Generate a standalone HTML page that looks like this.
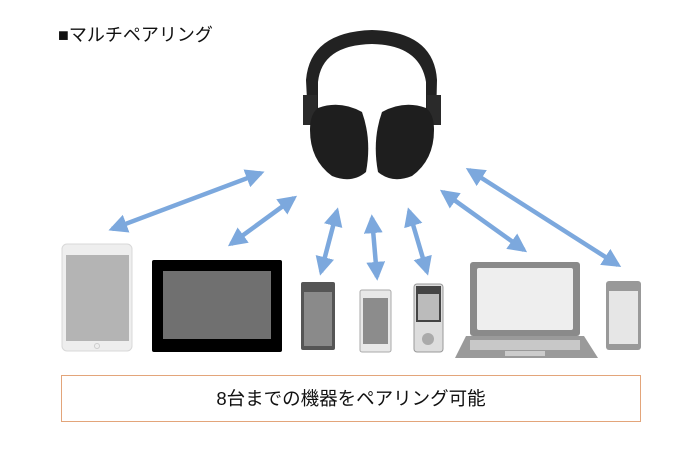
<!DOCTYPE html>
<html><head><meta charset="utf-8"><style>
body{margin:0;width:700px;height:450px;background:#fff;overflow:hidden;position:relative;font-family:"Liberation Sans","Noto Sans CJK JP",sans-serif}
.t{position:absolute;left:58px;top:21px;font-size:18px;color:#111}
.box{position:absolute;left:61px;top:375px;width:580px;height:47px;border:1px solid #e3a57a;box-sizing:border-box;text-align:center;line-height:45px;font-size:18.5px;color:#111}
</style></head><body>
<div class="t">■マルチペアリング</div>
<svg width="700" height="450" style="position:absolute;left:0;top:0">
<defs><marker id="a" viewBox="0 0 10 10" refX="8" refY="5" markerWidth="4.2" markerHeight="4.2" orient="auto-start-reverse"><path d="M0,0L10,5L0,10z" fill="#7ca8dd"/></marker></defs>
<g stroke="#7ca8dd" stroke-width="4.5" marker-start="url(#a)" marker-end="url(#a)">
<line x1="112" y1="229" x2="261" y2="173"/>
<line x1="231" y1="244" x2="294" y2="198"/>
<line x1="321" y1="272" x2="337" y2="211"/>
<line x1="372" y1="218" x2="377" y2="277"/>
<line x1="409" y1="211" x2="427" y2="272"/>
<line x1="443" y1="192" x2="524" y2="250"/>
<line x1="469" y1="170" x2="618" y2="265"/>
</g>
<!-- headphones -->
<path d="M308,120 L306,80 Q310,32 372,30 Q434,32 437,80 L436,120 L426,120 L426,82 Q420,45 372,44 Q322,45 318,82 L318,120 Z" fill="#222"/>
<rect x="303" y="95" width="14" height="30" fill="#2a2a2a"/>
<rect x="427" y="95" width="14" height="30" fill="#2a2a2a"/>
<path d="M318,108 Q340,100 362,112 Q372,140 366,172 Q352,184 332,176 Q310,160 310,130 Q310,114 318,108Z" fill="#1e1e1e"/>
<path d="M426,108 Q404,100 382,112 Q372,140 378,172 Q392,184 412,176 Q434,160 434,130 Q434,114 426,108Z" fill="#1e1e1e"/>
<!-- ipad -->
<rect x="62" y="244" width="70" height="107" rx="5" fill="#eeeeee" stroke="#d8d8d8"/>
<rect x="66" y="255" width="63" height="86" fill="#b4b4b4"/>
<circle cx="97" cy="346" r="2.5" fill="none" stroke="#ccc"/>
<!-- black tablet -->
<rect x="152" y="260" width="130" height="92" rx="2" fill="#000"/>
<rect x="163" y="271" width="108" height="68" fill="#707070"/>
<!-- phone1 -->
<rect x="301" y="282" width="34" height="68" rx="2" fill="#555"/>
<rect x="304" y="292" width="28" height="54" fill="#8a8a8a"/>
<!-- phone2 -->
<rect x="360" y="290" width="31" height="62" rx="2" fill="#e8e8e8" stroke="#aaa"/>
<rect x="363" y="298" width="25" height="46" fill="#8c8c8c"/>
<!-- walkman -->
<rect x="414" y="284" width="29" height="68" rx="3" fill="#ddd" stroke="#999"/>
<rect x="416" y="286" width="25" height="36" fill="#444"/>
<rect x="418" y="294" width="21" height="26" fill="#bbb"/>
<circle cx="428" cy="339" r="6" fill="#aaa"/>
<!-- laptop -->
<rect x="470" y="262" width="110" height="74" rx="3" fill="#8a8a8a"/>
<rect x="477" y="268" width="96" height="62" rx="2" fill="#eeeeee"/>
<path d="M466,336 L584,336 L598,358 L455,358 Z" fill="#9a9a9a"/>
<rect x="470" y="340" width="110" height="10" fill="#c8c8c8"/>
<rect x="505" y="351" width="40" height="5" fill="#ccc"/>
<!-- phone3 -->
<rect x="606" y="281" width="35" height="69" rx="3" fill="#999"/>
<rect x="609" y="291" width="29" height="53" fill="#e6e6e6"/>
</svg>
<div class="box">8台までの機器をペアリング可能</div>
</body></html>
